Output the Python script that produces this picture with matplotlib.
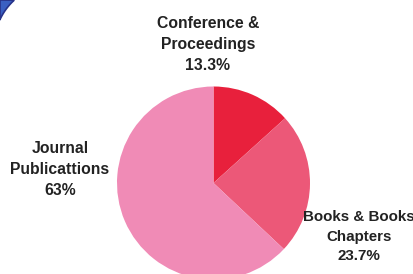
import numpy as np
import matplotlib
matplotlib.use("Agg")
import matplotlib.pyplot as plt
from matplotlib.patches import Polygon

categories = ["Conference &\nProceedings", "Books & Books\nChapters", "Journal\nPublicattions"]
values = [13.3, 23.7, 63]
colors = ["#E8203C", "#EC5878", "#F08BB6"]

W, H = 414, 274
fig = plt.figure(figsize=(W / 100, H / 100), dpi=100)
fig.patch.set_facecolor("white")

# pie axes placed in pixel space: centre (213.5, 183), radius 96.5
cx, cy, r = 213.5, 183.0, 96.5
ax = fig.add_axes([(cx - r) / W, (H - cy - r) / H, 2 * r / W, 2 * r / H])
ax.pie(values, colors=colors, startangle=90, counterclock=False,
       radius=1.0, wedgeprops=dict(linewidth=0))
ax.set_xlim(-1, 1)
ax.set_ylim(-1, 1)
ax.set_aspect("equal")
ax.axis("off")

# labels
label_pos = [(208, 44.5), (359, 236.5), (60, 169.5)]
sizes = [11.3, 10.9, 11.3]
for name, v, (px, py), fs in zip(categories, values, label_pos, sizes):
    fig.text(px / W, 1 - py / H, f"{name}\n{v:g}%", ha="center", va="center",
             fontsize=fs, fontweight="bold", family="Liberation Sans",
             color="#222222", linespacing=1.5)

# decorative blue corner (top-left)
ccx, ccy, R = 55.0, 45.0, 60.6
a1 = np.arctan2(0 - ccy, 14 - ccx)
a2 = np.arctan2(20 - ccy, 0 - ccx)
angs = np.linspace(a1, a2, 30)
arc = np.column_stack([ccx + R * np.cos(angs), ccy + R * np.sin(angs)])
pts = np.vstack([[[0, 0]], arc, [[0, 20]]])
pts_fig = np.column_stack([pts[:, 0] / W, 1 - pts[:, 1] / H])
fig.patches.append(Polygon(pts_fig, closed=True, transform=fig.transFigure,
                           facecolor="#3A5FC2", edgecolor="#27338A", linewidth=1.2))

fig.savefig("out.png", dpi=100, facecolor="white")
